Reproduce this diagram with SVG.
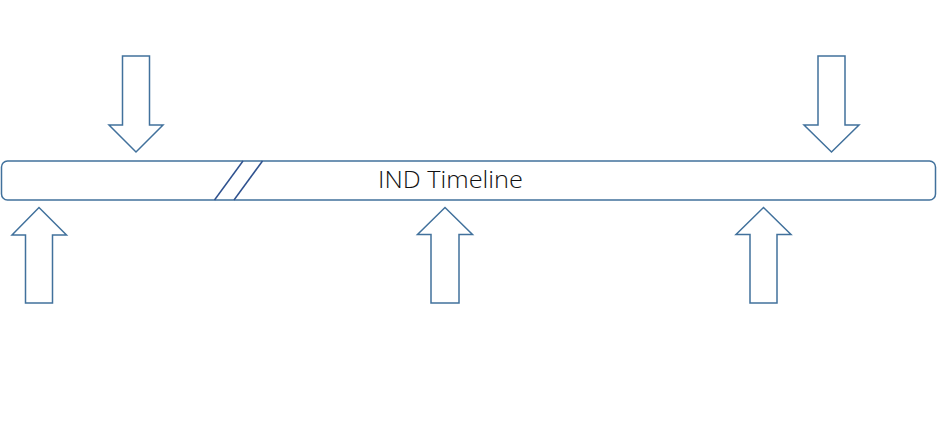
<svg xmlns="http://www.w3.org/2000/svg" width="937" height="426" viewBox="0 0 937 426">
<style>
.arrow{fill:#ffffff;stroke:#41719C;stroke-width:1.5;stroke-linejoin:miter}
.bar{fill:#ffffff;stroke:#41719C;stroke-width:1.5}
.brk{stroke:#2F528F;stroke-width:1.5;fill:none}
.lbl{font-family:"Open Sans","Liberation Sans",sans-serif;font-size:24px;font-weight:300;fill:#111111}
</style>
<rect width="937" height="426" fill="#ffffff"/>
<g id="timeline">
<rect class="bar" x="1.5" y="161" width="934" height="39" rx="6" ry="6"/>
<text class="lbl" x="378" y="188" textLength="145" lengthAdjust="spacingAndGlyphs">IND Timeline</text>
</g>
<g id="connectors">
<line class="brk" x1="214.5" y1="200" x2="243" y2="161"/>
<line class="brk" x1="234" y1="200" x2="262.5" y2="161"/>
</g>
<g id="arrow-down-1">
<path class="arrow" d="M122.5 56 H149.5 V125 H163 L136 152 L109 125 H122.5 Z"/>
</g>
<g id="arrow-down-2">
<path class="arrow" d="M818 56 H845 V125 H859 L831.5 152 L804 125 H818 Z"/>
</g>
<g id="arrow-up-1">
<path class="arrow" d="M25.5 303 V235 H12 L39 207.5 L66.5 235 H52.5 V303 Z"/>
</g>
<g id="arrow-up-2">
<path class="arrow" d="M431 303 V234.5 H417.5 L445 207.5 L472.5 234.5 H459 V303 Z"/>
</g>
<g id="arrow-up-3">
<path class="arrow" d="M750 303 V234.5 H736 L763.5 207.5 L791 234.5 H777 V303 Z"/>
</g>
</svg>
